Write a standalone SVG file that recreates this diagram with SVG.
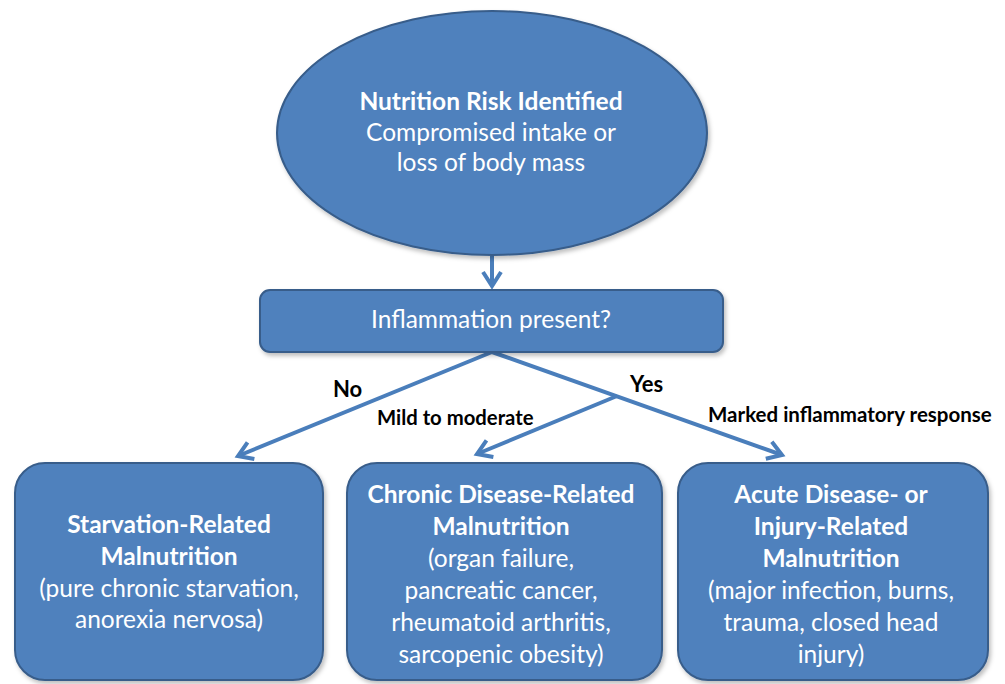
<svg xmlns="http://www.w3.org/2000/svg" width="1005" height="684" viewBox="0 0 1005 684">
  <defs>
    <style>
      .node { fill: #4F81BD; stroke: #385D8A; stroke-width: 2; }
      .nt { font-family: Lato, "Open Sans", sans-serif; fill: #FFFFFF; text-anchor: middle; font-size: 24.5px; }
      .b { font-weight: bold; }
      .lbl { font-family: Lato, "Open Sans", sans-serif; fill: #000000; font-weight: bold; }
      .conn { stroke: #4A7EBB; stroke-width: 4; fill: none; }
    </style>
    <marker id="arr" viewBox="0 0 24 24" refX="20" refY="12" markerWidth="24" markerHeight="24" markerUnits="userSpaceOnUse" orient="auto">
      <path d="M6,3 L20,12 L6,21" fill="none" stroke="#4A7EBB" stroke-width="4" stroke-linejoin="miter"/>
    </marker>
    <filter id="sh" x="-10%" y="-10%" width="125%" height="125%">
      <feDropShadow dx="2" dy="3" stdDeviation="2" flood-color="#000" flood-opacity="0.25"/>
    </filter>
  </defs>
  <rect width="1005" height="684" fill="#FFFFFF"/>

  <g id="connectors">
    <line class="conn" x1="492" y1="256" x2="492" y2="286" marker-end="url(#arr)"/>
    <line class="conn" x1="492" y1="352" x2="238" y2="456" marker-end="url(#arr)"/>
    <line class="conn" x1="492" y1="352" x2="782" y2="455" marker-end="url(#arr)"/>
    <line class="conn" x1="617" y1="396" x2="477" y2="454" marker-end="url(#arr)"/>
    <text class="lbl" x="333" y="397" font-size="22">No</text>
    <text class="lbl" x="630" y="392" font-size="22">Yes</text>
    <text class="lbl" x="377" y="425" font-size="20.3">Mild to moderate</text>
    <text class="lbl" x="708" y="422" font-size="20.5">Marked inflammatory response</text>
  </g>

  <g id="risk">
    <ellipse class="node" cx="492" cy="133" rx="215" ry="122" filter="url(#sh)"/>
    <text class="nt b" x="491" y="110">Nutrition Risk Identified</text>
    <text class="nt" x="491" y="141">Compromised intake or</text>
    <text class="nt" x="491" y="171">loss of body mass</text>
  </g>

  <g id="inflammation">
    <rect class="node" x="260" y="290" width="463" height="62" rx="10" filter="url(#sh)"/>
    <text class="nt" x="491" y="328">Inflammation present?</text>
  </g>

  <g id="starvation">
    <rect class="node" x="15" y="463" width="308" height="217" rx="30" filter="url(#sh)"/>
    <text class="nt b" x="169" y="533">Starvation-Related</text>
    <text class="nt b" x="169" y="565">Malnutrition</text>
    <text class="nt" x="169" y="597">(pure chronic starvation,</text>
    <text class="nt" x="169" y="628">anorexia nervosa)</text>
  </g>

  <g id="chronic">
    <rect class="node" x="347" y="463" width="315" height="217" rx="30" filter="url(#sh)"/>
    <text class="nt b" x="501" y="503">Chronic Disease-Related</text>
    <text class="nt b" x="501" y="535">Malnutrition</text>
    <text class="nt" x="501" y="567">(organ failure,</text>
    <text class="nt" x="501" y="599">pancreatic cancer,</text>
    <text class="nt" x="501" y="631">rheumatoid arthritis,</text>
    <text class="nt" x="501" y="663">sarcopenic obesity)</text>
  </g>

  <g id="acute">
    <rect class="node" x="678" y="463" width="310" height="217" rx="30" filter="url(#sh)"/>
    <text class="nt b" x="831" y="503">Acute Disease- or</text>
    <text class="nt b" x="831" y="535">Injury-Related</text>
    <text class="nt b" x="831" y="567">Malnutrition</text>
    <text class="nt" x="831" y="599">(major infection, burns,</text>
    <text class="nt" x="831" y="631">trauma, closed head</text>
    <text class="nt" x="831" y="663">injury)</text>
  </g>
</svg>
